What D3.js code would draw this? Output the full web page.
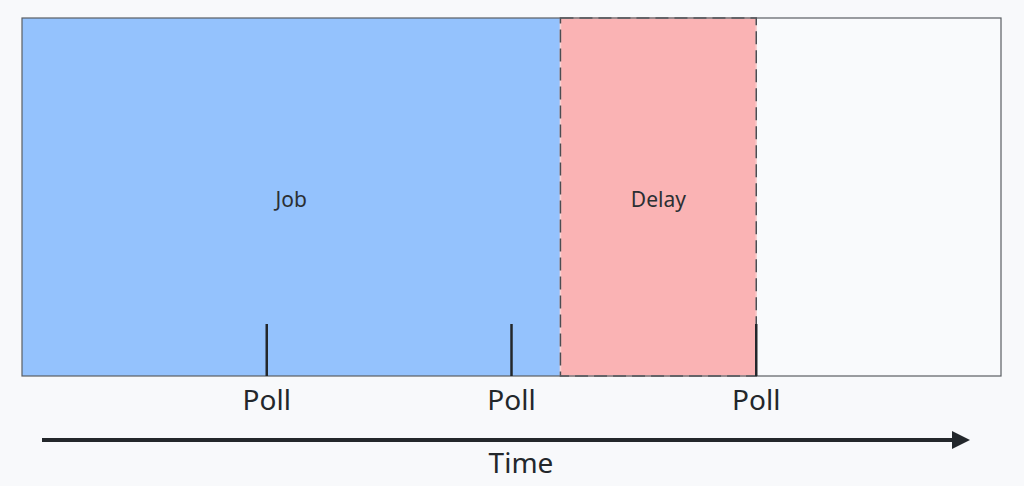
<!DOCTYPE html><html><head><meta charset="utf-8"><script src="https://cdn.jsdelivr.net/npm/d3@7"></script>
<style>body{margin:0;background:#f8f9fb}svg{display:block}</style></head><body><svg width="1024" height="486"></svg>
<script>
const spans=[{name:"Job",start:0,end:55,color:"#94c2fd"},{name:"Delay",start:55,end:75,color:"#fab3b4"}];
const polls=[25,50,75];
const pollLabel="Poll", axisLabel="Time";
const svg=d3.select("svg");
const x=d3.scaleLinear().domain([0,100]).range([22,1001]);
const yTop=18,yBot=376;
const f="'Noto Sans', 'Open Sans', sans-serif";
svg.append("rect").attr("x",x(0)).attr("y",yTop).attr("width",x(100)-x(0)).attr("height",yBot-yTop).attr("fill","#f9fafc");
spans.forEach(s=>{
  svg.append("rect").attr("x",x(s.start)).attr("y",yTop).attr("width",x(s.end)-x(s.start)).attr("height",yBot-yTop).attr("fill",s.color);
  svg.append("text").attr("x",(x(s.start)+x(s.end))/2).attr("y",207).attr("text-anchor","middle").attr("font-family",f).attr("font-size",21).attr("fill","#2b2f33").text(s.name);
});
const d=spans[1];
svg.append("rect").attr("x",x(d.start)).attr("y",yTop).attr("width",x(d.end)-x(d.start)).attr("height",yBot-yTop).attr("fill","none").attr("stroke","#f7d0d0").attr("stroke-width",1.5);
svg.append("rect").attr("x",x(d.start)).attr("y",yTop).attr("width",x(d.end)-x(d.start)).attr("height",yBot-yTop).attr("fill","none").attr("stroke","#4a4d52").attr("stroke-width",1.5).attr("stroke-dasharray","13,6");
svg.append("rect").attr("x",x(0)).attr("y",yTop).attr("width",x(100)-x(0)).attr("height",yBot-yTop).attr("fill","none").attr("stroke","#5a5e63").attr("stroke-width",1.2);
polls.forEach(p=>{
  svg.append("line").attr("x1",x(p)).attr("x2",x(p)).attr("y1",324).attr("y2",yBot).attr("stroke","#23272b").attr("stroke-width",2.5);
  svg.append("text").attr("x",x(p)).attr("y",410).attr("text-anchor","middle").attr("font-family",f).attr("font-size",28).attr("fill","#23272b").text(pollLabel);
});
svg.append("defs").append("marker").attr("id","ah").attr("viewBox","0 0 10 10").attr("refX",0).attr("refY",5).attr("markerWidth",7.5).attr("markerHeight",4.5).attr("markerUnits","strokeWidth").attr("orient","auto").append("path").attr("d","M0,0L10,5L0,10Z").attr("fill","#23272b");
svg.append("line").attr("x1",42).attr("x2",952).attr("y1",440).attr("y2",440).attr("stroke","#23272b").attr("stroke-width",4).attr("marker-end","url(#ah)");
svg.append("text").attr("x",521).attr("y",473).attr("text-anchor","middle").attr("font-family",f).attr("font-size",28).attr("fill","#23272b").text(axisLabel);
</script></body></html>
